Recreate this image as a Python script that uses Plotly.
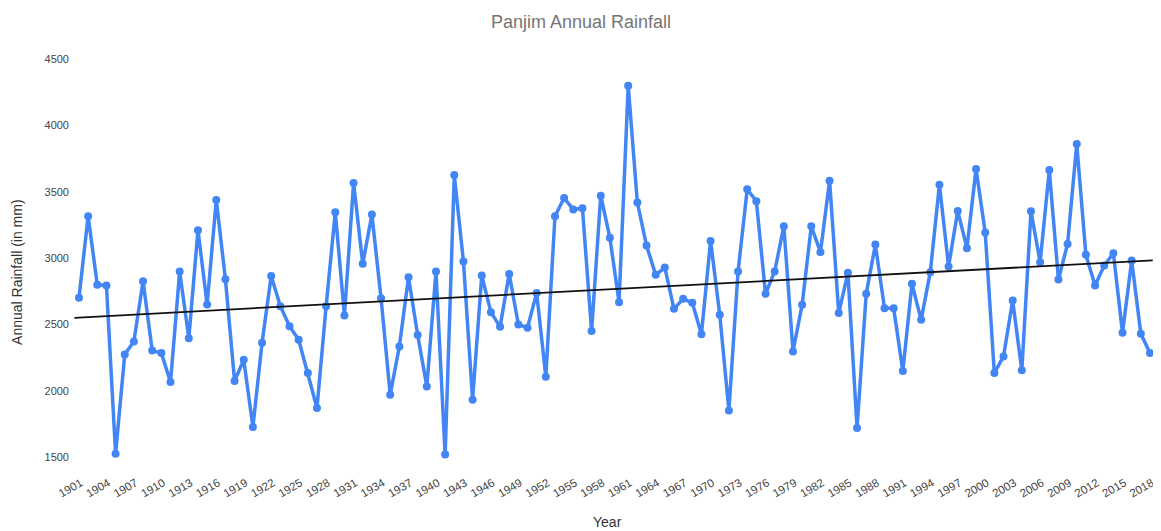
import numpy as np
import plotly.graph_objects as go

years = list(range(1901, 2019))
rainfall = [
    2700, 3315, 2798, 2793, 1525, 2273, 2371, 2825, 2303, 2283,  # 1901-1910
    2065, 2898, 2396, 3210, 2650, 3438, 2840, 2072, 2233, 1726,  # 1911-1920
    2361, 2865, 2637, 2486, 2384, 2133, 1869, 2637, 3345, 2567,  # 1921-1930
    3566, 2956, 3327, 2697, 1970, 2333, 2855, 2419, 2032, 2898,  # 1931-1940
    1518, 3626, 2973, 1932, 2868, 2592, 2481, 2880, 2499, 2474,  # 1941-1950
    2737, 2105, 3315, 3453, 3365, 3375, 2449, 3470, 3152, 2667,  # 1951-1960
    4299, 3418, 3094, 2873, 2928, 2617, 2692, 2662, 2426, 3129,  # 1961-1970
    2572, 1851, 2898, 3518, 3428, 2730, 2898, 3239, 2296, 2647,  # 1971-1980
    3239, 3044, 3583, 2585, 2888, 1718, 2730, 3101, 2622, 2622,  # 1981-1990
    2148, 2805, 2534, 2893, 3553, 2936, 3355, 3074, 3671, 3192,  # 1991-2000
    2133, 2258, 2680, 2153, 3352, 2968, 3663, 2838, 3106, 3859,  # 2001-2010
    3024, 2793, 2943, 3036, 2436, 2981, 2429, 2283,              # 2011-2018
]
tick_years = list(range(1901, 2019, 3))
y_ticks = [1500, 2000, 2500, 3000, 3500, 4000, 4500]

# linear trendline computed from the data
slope, intercept = np.polyfit(years, rainfall, 1)
trend_x = [1900.5, 2018.3]
trend_y = [slope * x + intercept for x in trend_x]

FONT = "Arial, Liberation Sans, sans-serif"
LABEL_OFFSET = 0.2  # nudges rotated year labels to sit like the reference

fig = go.Figure()
fig.add_trace(go.Scatter(
    x=years, y=rainfall, mode="lines+markers",
    line=dict(color="#4285F4", width=3.5),
    marker=dict(color="#4285F4", size=8),
    cliponaxis=False, showlegend=False,
))
fig.add_trace(go.Scatter(
    x=trend_x, y=trend_y, mode="lines",
    line=dict(color="#111111", width=1.8),
    showlegend=False,
))

fig.update_layout(
    width=1153, height=523,
    paper_bgcolor="white", plot_bgcolor="white",
    margin=dict(l=62, r=8, t=51, b=74),
    font=dict(family=FONT, color="#444444"),
    title=dict(text="Panjim Annual Rainfall", x=0.497, xanchor="center",
               y=0.974, yanchor="middle",
               font=dict(family=FONT, size=18, color="#757575")),
    xaxis=dict(
        range=[1900.02, 2018.33], tickmode="array",
        tickvals=[y + LABEL_OFFSET for y in tick_years],
        ticktext=[str(y) for y in tick_years], tickangle=-30,
        tickfont=dict(size=11.5, color="#444444"),
        showgrid=False, zeroline=False, showline=False,
        ticks="outside", ticklen=14, tickcolor="rgba(0,0,0,0)",
        automargin=False,
    ),
    yaxis=dict(
        range=[1500, 4500], tickmode="array", tickvals=y_ticks,
        tickfont=dict(size=11, color="#444444"),
        showgrid=False, zeroline=False, showline=False, ticks="",
        automargin=False,
    ),
    annotations=[
        dict(text="Annual Rainfall (in mm)", xref="paper", yref="paper",
             x=0, y=0.465, xshift=-53,
             xanchor="center", yanchor="middle", textangle=-90, showarrow=False,
             font=dict(family=FONT, size=14, color="#333333")),
        dict(text="Year", xref="paper", yref="paper", x=0.5, y=0,
             xshift=-4, yshift=-65, xanchor="center", yanchor="middle",
             showarrow=False, font=dict(family=FONT, size=14, color="#333333")),
    ],
)

fig.write_html("out.html")
